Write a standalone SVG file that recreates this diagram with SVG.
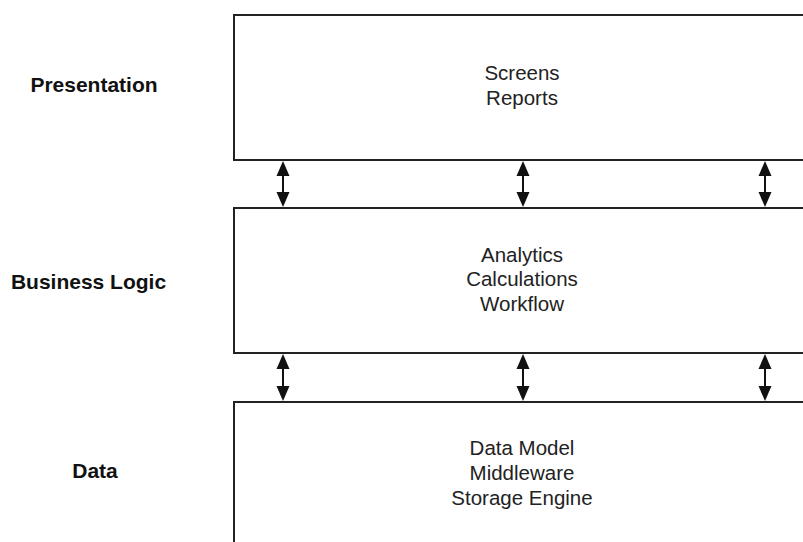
<svg xmlns="http://www.w3.org/2000/svg" width="803" height="542" viewBox="0 0 803 542">
  <style>
    .box { fill: #ffffff; stroke: #222222; stroke-width: 2; }
    .txt { font-family: "Liberation Sans", Arial, sans-serif; font-size: 20.5px; fill: #222222; text-anchor: middle; }
    .lbl { font-family: "Liberation Sans", Arial, sans-serif; font-size: 21px; font-weight: bold; fill: #111111; text-anchor: middle; }
    .conn line { stroke: #111111; stroke-width: 2; }
    .conn polygon { fill: #111111; }
  </style>
  <rect width="803" height="542" fill="#ffffff"/>
  <g id="label-presentation"><text class="lbl" x="94" y="92">Presentation</text></g>
  <g id="label-business"><text class="lbl" x="88.5" y="289">Business Logic</text></g>
  <g id="label-data"><text class="lbl" x="95" y="478">Data</text></g>

  <g id="presentation">
    <rect class="box" x="234" y="15" width="600" height="145"/>
    <text class="txt" x="522" y="80">Screens</text>
    <text class="txt" x="522" y="105">Reports</text>
  </g>
  <g id="business">
    <rect class="box" x="234" y="208" width="600" height="145"/>
    <text class="txt" x="522" y="262">Analytics</text>
    <text class="txt" x="522" y="286">Calculations</text>
    <text class="txt" x="522" y="311">Workflow</text>
  </g>
  <g id="data">
    <rect class="box" x="234" y="402" width="600" height="160"/>
    <text class="txt" x="522" y="455">Data Model</text>
    <text class="txt" x="522" y="480">Middleware</text>
    <text class="txt" x="522" y="505">Storage Engine</text>
  </g>

  <g class="conn" id="connectors">
    <g>
      <line x1="283" y1="170" x2="283" y2="198"/>
      <polygon points="283,161 276.5,176 289.5,176"/>
      <polygon points="283,207 276.5,192 289.5,192"/>
    </g>
    <g>
      <line x1="523" y1="170" x2="523" y2="198"/>
      <polygon points="523,161 516.5,176 529.5,176"/>
      <polygon points="523,207 516.5,192 529.5,192"/>
    </g>
    <g>
      <line x1="765" y1="170" x2="765" y2="198"/>
      <polygon points="765,161 758.5,176 771.5,176"/>
      <polygon points="765,207 758.5,192 771.5,192"/>
    </g>
    <g>
      <line x1="283" y1="364" x2="283" y2="392"/>
      <polygon points="283,354 276.5,369 289.5,369"/>
      <polygon points="283,401 276.5,386 289.5,386"/>
    </g>
    <g>
      <line x1="523" y1="364" x2="523" y2="392"/>
      <polygon points="523,354 516.5,369 529.5,369"/>
      <polygon points="523,401 516.5,386 529.5,386"/>
    </g>
    <g>
      <line x1="765" y1="364" x2="765" y2="392"/>
      <polygon points="765,354 758.5,369 771.5,369"/>
      <polygon points="765,401 758.5,386 771.5,386"/>
    </g>
  </g>
</svg>
